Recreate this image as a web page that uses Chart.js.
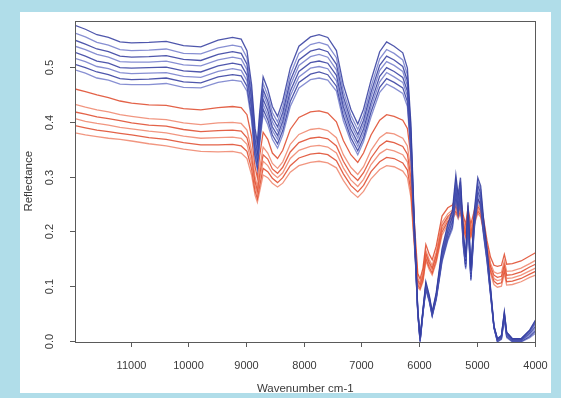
<!DOCTYPE html>
<html>
<head>
<meta charset="utf-8">
<script src="https://cdn.jsdelivr.net/npm/chart.js@4.4.1/dist/chart.umd.min.js"></script>
<style>
  html, body { margin: 0; padding: 0; }
  body { width: 561px; height: 398px; background: #b0dde9; position: relative; overflow: hidden; }
  .panel { position: absolute; left: 20px; top: 12px; width: 531px; height: 381px; background: #fff; overflow: hidden; }
</style>
</head>
<body>
<div class="panel"><canvas id="spectra"></canvas></div>
<script>
// wavenumbers (cm-1) shared by every spectrum
const wavenumbers = [11980, 11800, 11600, 11400, 11200, 11000, 10700, 10400, 10100, 9800,
  9500, 9250, 9100, 9000, 8920, 8860, 8820, 8780, 8720, 8640,
  8560, 8470, 8380, 8250, 8100, 7900, 7750, 7600, 7450, 7330,
  7200, 7080, 6980, 6850, 6700, 6580, 6450, 6300, 6220, 6160,
  6100, 6040, 6000, 5950, 5900, 5840, 5790, 5720, 5620, 5520,
  5440, 5380, 5340, 5300, 5250, 5210, 5170, 5120, 5060, 5000,
  4950, 4900, 4840, 4780, 4720, 4660, 4590, 4540, 4500, 4400,
  4250, 4100, 4000];

const blue1 = [0.578,0.571,0.561,0.556,0.548,0.546,0.547,0.549,0.541,0.539,
  0.551,0.556,0.553,0.532,0.470,0.390,0.365,0.420,0.484,0.462,
  0.430,0.412,0.440,0.500,0.540,0.557,0.561,0.556,0.532,0.470,
  0.425,0.398,0.425,0.478,0.530,0.548,0.540,0.528,0.500,0.400,
  0.220,0.060,0.008,0.060,0.110,0.085,0.055,0.090,0.170,0.215,
  0.240,0.305,0.268,0.300,0.200,0.155,0.255,0.130,0.240,0.300,
  0.285,0.225,0.170,0.100,0.030,0.006,0.012,0.055,0.018,0.006,
  0.006,0.022,0.040];
const blue2 = [0.564,0.557,0.547,0.542,0.534,0.532,0.533,0.535,0.527,0.526,
  0.537,0.542,0.539,0.519,0.458,0.380,0.356,0.410,0.472,0.450,
  0.419,0.402,0.429,0.488,0.527,0.543,0.547,0.542,0.519,0.458,
  0.414,0.388,0.414,0.466,0.517,0.534,0.527,0.515,0.488,0.390,
  0.215,0.058,0.008,0.058,0.107,0.083,0.054,0.088,0.166,0.210,
  0.234,0.297,0.261,0.293,0.195,0.151,0.249,0.127,0.234,0.293,
  0.278,0.219,0.166,0.098,0.029,0.006,0.012,0.054,0.018,0.006,
  0.006,0.021,0.039];
const blue3 = [0.551,0.544,0.535,0.530,0.522,0.520,0.521,0.523,0.516,0.514,
  0.525,0.530,0.527,0.507,0.448,0.372,0.348,0.400,0.461,0.440,
  0.410,0.393,0.419,0.477,0.515,0.531,0.535,0.530,0.507,0.448,
  0.405,0.379,0.405,0.456,0.505,0.522,0.515,0.503,0.477,0.381,
  0.210,0.057,0.006,0.057,0.105,0.081,0.052,0.086,0.162,0.205,
  0.229,0.291,0.255,0.286,0.191,0.148,0.243,0.124,0.229,0.286,
  0.272,0.214,0.162,0.095,0.028,0.005,0.011,0.052,0.017,0.005,
  0.005,0.020,0.036];
const blue4 = [0.540,0.534,0.525,0.520,0.512,0.511,0.511,0.513,0.506,0.504,
  0.515,0.520,0.517,0.497,0.439,0.365,0.341,0.393,0.453,0.432,
  0.402,0.385,0.411,0.468,0.505,0.521,0.525,0.520,0.497,0.439,
  0.397,0.372,0.397,0.447,0.496,0.512,0.505,0.494,0.468,0.374,
  0.206,0.056,0.004,0.056,0.103,0.079,0.051,0.084,0.159,0.201,
  0.224,0.285,0.251,0.281,0.187,0.145,0.238,0.122,0.224,0.281,
  0.266,0.210,0.159,0.094,0.028,0.004,0.010,0.050,0.015,0.004,
  0.004,0.018,0.032];
const blue5 = [0.529,0.522,0.513,0.509,0.501,0.500,0.501,0.502,0.495,0.493,
  0.504,0.509,0.506,0.487,0.430,0.357,0.334,0.384,0.443,0.423,
  0.393,0.377,0.403,0.458,0.494,0.510,0.513,0.509,0.487,0.430,
  0.389,0.364,0.389,0.437,0.485,0.501,0.494,0.483,0.458,0.366,
  0.201,0.055,0.003,0.055,0.101,0.078,0.050,0.082,0.156,0.197,
  0.220,0.279,0.245,0.275,0.183,0.142,0.233,0.119,0.220,0.275,
  0.261,0.206,0.156,0.092,0.027,0.003,0.009,0.048,0.014,0.003,
  0.003,0.016,0.028];
const blue6 = [0.518,0.512,0.503,0.499,0.492,0.490,0.491,0.492,0.485,0.483,
  0.494,0.499,0.496,0.477,0.422,0.350,0.327,0.377,0.434,0.414,
  0.386,0.370,0.395,0.449,0.484,0.500,0.503,0.499,0.477,0.422,
  0.381,0.357,0.381,0.429,0.475,0.492,0.484,0.474,0.449,0.359,
  0.197,0.054,0.002,0.054,0.099,0.076,0.049,0.081,0.152,0.193,
  0.215,0.274,0.240,0.269,0.179,0.139,0.229,0.117,0.215,0.269,
  0.256,0.202,0.152,0.090,0.026,0.002,0.008,0.046,0.012,0.002,
  0.002,0.013,0.024];
const blue7 = [0.507,0.501,0.493,0.488,0.481,0.479,0.480,0.482,0.475,0.473,
  0.484,0.488,0.486,0.467,0.413,0.342,0.320,0.369,0.425,0.406,
  0.378,0.362,0.386,0.439,0.474,0.489,0.493,0.488,0.467,0.413,
  0.373,0.349,0.373,0.420,0.465,0.481,0.474,0.464,0.439,0.351,
  0.193,0.053,0.001,0.053,0.097,0.075,0.048,0.079,0.149,0.189,
  0.211,0.268,0.235,0.263,0.176,0.136,0.224,0.114,0.211,0.263,
  0.250,0.198,0.149,0.088,0.026,0.001,0.006,0.044,0.010,0.001,
  0.001,0.010,0.020];
const blue8 = [0.497,0.491,0.482,0.478,0.471,0.470,0.470,0.472,0.465,0.464,
  0.474,0.478,0.476,0.458,0.404,0.335,0.314,0.361,0.416,0.397,
  0.370,0.354,0.378,0.430,0.464,0.479,0.482,0.478,0.458,0.404,
  0.366,0.342,0.366,0.411,0.456,0.471,0.464,0.454,0.430,0.344,
  0.189,0.052,0.000,0.052,0.095,0.073,0.047,0.077,0.146,0.185,
  0.206,0.262,0.230,0.258,0.172,0.133,0.219,0.112,0.206,0.258,
  0.245,0.194,0.146,0.086,0.026,0.000,0.005,0.042,0.008,0.000,
  0.000,0.008,0.016];

const red1 = [0.462,0.457,0.451,0.446,0.440,0.436,0.433,0.432,0.426,0.424,
  0.428,0.430,0.428,0.415,0.375,0.320,0.300,0.340,0.383,0.370,
  0.345,0.335,0.350,0.388,0.410,0.420,0.422,0.418,0.402,0.368,
  0.342,0.328,0.345,0.378,0.405,0.415,0.412,0.405,0.390,0.340,
  0.220,0.125,0.115,0.135,0.178,0.160,0.150,0.175,0.230,0.245,
  0.250,0.262,0.250,0.262,0.230,0.215,0.245,0.215,0.240,0.260,
  0.252,0.225,0.185,0.155,0.140,0.138,0.140,0.160,0.142,0.143,
  0.148,0.157,0.163];
const red2 = [0.434,0.429,0.424,0.420,0.415,0.412,0.408,0.406,0.400,0.397,
  0.400,0.401,0.399,0.387,0.350,0.302,0.284,0.317,0.356,0.345,
  0.326,0.317,0.329,0.361,0.379,0.388,0.390,0.386,0.373,0.342,
  0.319,0.306,0.320,0.350,0.373,0.382,0.380,0.372,0.358,0.314,
  0.204,0.116,0.108,0.126,0.167,0.150,0.140,0.164,0.218,0.234,
  0.241,0.253,0.241,0.253,0.221,0.206,0.236,0.206,0.231,0.251,
  0.244,0.216,0.176,0.144,0.128,0.125,0.127,0.148,0.129,0.130,
  0.135,0.143,0.149];
const red3 = [0.420,0.416,0.411,0.408,0.404,0.400,0.396,0.394,0.388,0.384,
  0.386,0.387,0.385,0.373,0.339,0.293,0.277,0.306,0.342,0.334,
  0.316,0.308,0.319,0.347,0.364,0.372,0.374,0.371,0.358,0.330,
  0.307,0.295,0.309,0.336,0.358,0.367,0.364,0.357,0.343,0.301,
  0.197,0.112,0.105,0.122,0.162,0.145,0.135,0.159,0.212,0.229,
  0.237,0.248,0.237,0.248,0.217,0.202,0.231,0.202,0.227,0.247,
  0.240,0.212,0.172,0.139,0.122,0.118,0.120,0.142,0.122,0.123,
  0.128,0.137,0.142];
const red4 = [0.408,0.403,0.399,0.396,0.392,0.389,0.385,0.382,0.376,0.372,
  0.373,0.374,0.372,0.361,0.327,0.285,0.269,0.296,0.330,0.322,
  0.308,0.300,0.309,0.335,0.350,0.357,0.359,0.356,0.345,0.318,
  0.296,0.284,0.297,0.324,0.344,0.352,0.349,0.342,0.329,0.289,
  0.189,0.108,0.101,0.118,0.158,0.141,0.131,0.155,0.206,0.225,
  0.233,0.244,0.233,0.244,0.213,0.198,0.227,0.198,0.223,0.243,
  0.236,0.208,0.168,0.135,0.116,0.112,0.114,0.136,0.116,0.117,
  0.122,0.130,0.135];
const red5 = [0.395,0.391,0.387,0.384,0.381,0.378,0.373,0.370,0.364,0.360,
  0.360,0.361,0.358,0.348,0.316,0.276,0.262,0.285,0.317,0.311,
  0.299,0.291,0.300,0.322,0.336,0.343,0.345,0.342,0.331,0.307,
  0.286,0.274,0.286,0.311,0.329,0.337,0.335,0.327,0.314,0.277,
  0.182,0.104,0.098,0.114,0.153,0.136,0.126,0.150,0.201,0.220,
  0.229,0.239,0.229,0.239,0.209,0.194,0.222,0.194,0.219,0.239,
  0.232,0.204,0.164,0.130,0.111,0.106,0.108,0.131,0.110,0.111,
  0.116,0.124,0.129];
const red6 = [0.382,0.378,0.375,0.372,0.370,0.367,0.362,0.358,0.352,0.348,
  0.347,0.348,0.345,0.335,0.305,0.268,0.255,0.275,0.305,0.300,
  0.290,0.283,0.290,0.310,0.322,0.328,0.330,0.327,0.318,0.295,
  0.275,0.264,0.275,0.298,0.315,0.322,0.320,0.312,0.300,0.265,
  0.175,0.100,0.095,0.110,0.148,0.132,0.122,0.145,0.195,0.215,
  0.225,0.235,0.225,0.235,0.205,0.190,0.218,0.190,0.215,0.235,
  0.228,0.200,0.160,0.125,0.105,0.100,0.102,0.125,0.104,0.105,
  0.110,0.118,0.122];

const xTicks = [11000, 10000, 9000, 8000, 7000, 6000, 5000, 4000];
const yTicks = [0.0, 0.1, 0.2, 0.3, 0.4, 0.5];

const blueSeries = [blue1, blue2, blue3, blue4, blue5, blue6, blue7, blue8];
const redSeries = [red1, red2, red3, red4, red5, red6];

function toPoints(values) {
  return values.map((v, i) => ({ x: wavenumbers[i], y: v }));
}

const datasets = [];
blueSeries.forEach((s, i) => {
  datasets.push({
    data: toPoints(s),
    borderColor: i % 2 === 0 ? 'rgba(48,58,158,0.85)' : 'rgba(95,105,195,0.75)',
    borderWidth: 1.3
  });
});
redSeries.forEach((s, i) => {
  datasets.push({
    data: toPoints(s),
    borderColor: i % 2 === 0 ? 'rgba(222,70,40,0.85)' : 'rgba(236,115,85,0.75)',
    borderWidth: 1.3
  });
});

// R style frame, ticks and labels, placed with the chart's own scales
const rAxes = {
  id: 'rAxes',
  afterDraw(chart) {
    const ctx = chart.ctx;
    const a = chart.chartArea;
    const xs = chart.scales.x;
    const ys = chart.scales.y;
    ctx.save();
    ctx.strokeStyle = '#5a5a5a';
    ctx.lineWidth = 1;
    ctx.strokeRect(Math.round(a.left) + 0.5, Math.round(a.top) + 0.5,
      Math.round(a.right - a.left) - 1, Math.round(a.bottom - a.top) - 1);

    ctx.fillStyle = '#3a3a3a';
    ctx.font = '11px "Liberation Sans", Arial, sans-serif';
    ctx.textAlign = 'center';
    ctx.textBaseline = 'middle';

    xTicks.forEach(v => {
      const px = Math.round(xs.getPixelForValue(v)) - 0.5;
      ctx.beginPath();
      ctx.moveTo(px, a.bottom);
      ctx.lineTo(px, a.bottom + 5);
      ctx.stroke();
      ctx.fillText(String(v), px, a.bottom + 24);
    });

    yTicks.forEach(v => {
      const py = Math.round(ys.getPixelForValue(v)) - 0.5;
      ctx.beginPath();
      ctx.moveTo(a.left - 5, py);
      ctx.lineTo(a.left, py);
      ctx.stroke();
      ctx.save();
      ctx.translate(a.left - 25, py);
      ctx.rotate(-Math.PI / 2);
      ctx.fillText(v.toFixed(1), 0, 0);
      ctx.restore();
    });

    ctx.font = '11.5px "Liberation Sans", Arial, sans-serif';
    ctx.fillText('Wavenumber cm-1', (a.left + a.right) / 2, a.bottom + 47);
    ctx.save();
    ctx.translate(a.left - 46, (a.top + a.bottom) / 2);
    ctx.rotate(-Math.PI / 2);
    ctx.fillText('Reflectance', 0, 0);
    ctx.restore();
    ctx.restore();
  }
};

const canvas = document.getElementById('spectra');
canvas.width = 531;
canvas.height = 381;

new Chart(canvas.getContext('2d'), {
  type: 'line',
  data: { datasets: datasets },
  options: {
    responsive: false,
    animation: false,
    layout: { padding: { left: 55, top: 8.5, right: 15.5, bottom: 51 } },
    elements: { point: { radius: 0 }, line: { tension: 0 } },
    plugins: { legend: { display: false }, tooltip: { enabled: false } },
    scales: {
      x: { type: 'linear', reverse: true, min: 4000, max: 11980, display: false },
      y: { type: 'linear', min: 0, max: 0.587, display: false }
    }
  },
  plugins: [rAxes]
});
</script>
</body>
</html>
